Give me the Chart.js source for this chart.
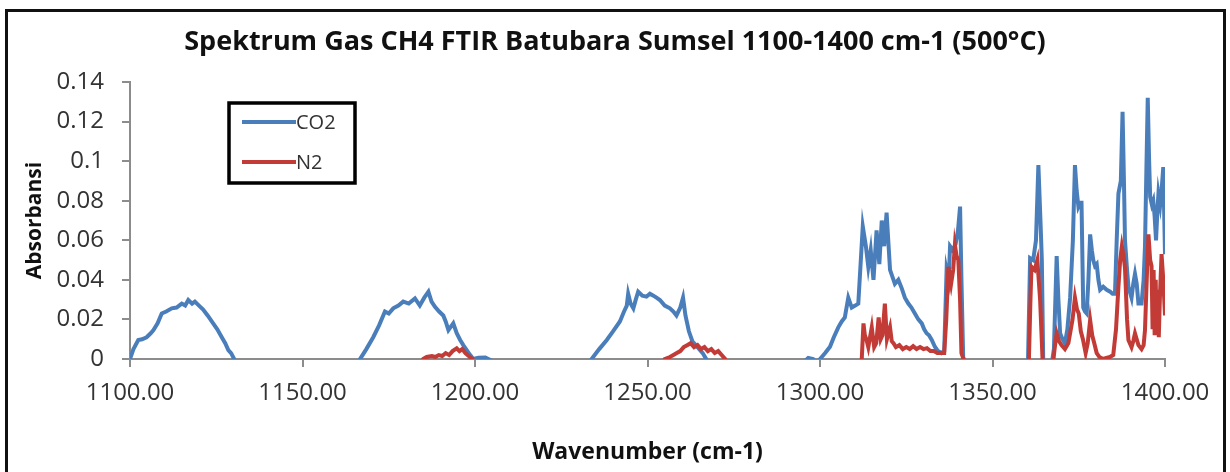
<!DOCTYPE html>
<html>
<head>
<meta charset="utf-8">
<script src="https://cdn.jsdelivr.net/npm/chart.js@4.4.1/dist/chart.umd.min.js"></script>
<style>
    html, body { margin: 0; padding: 0; background: #ffffff; }
    #wrap { width: 1230px; height: 472px; }
</style>
</head>
<body>
<div id="wrap"><canvas id="spectrumChart" width="1230" height="472"></canvas></div>
<script>
// Chart text
const chartTitle = 'Spektrum Gas CH4 FTIR Batubara Sumsel 1100-1400 cm-1 (500°C)';
const xTitle = 'Wavenumber (cm-1)';
const yTitle = 'Absorbansi';
const seriesNames = ['CO2', 'N2'];

// Axis ticks
const xTicks = [1100, 1150, 1200, 1250, 1300, 1350, 1400];
const yTicks = [0, 0.02, 0.04, 0.06, 0.08, 0.1, 0.12, 0.14];

// CO2 spectrum (wavenumber, absorbance), values below 0 are hidden under the axis
const co2Wn = [
    1100, 1101, 1102.4, 1103.5, 1104.8, 1106, 1106.8, 1108, 1109.2, 1110.5, 1112.1, 1113.5, 1115, 1116, 1116.9,
    1118, 1118.8, 1120, 1121.2, 1122.5, 1124.1, 1125.3, 1126.6, 1127.6, 1128.5, 1129.3, 1130.2, 1131,
    1150, 1166,
    1166.7, 1168.5, 1170.5, 1172.2, 1173.9, 1175, 1176.3, 1177.8, 1179.2, 1180.8, 1182.6, 1184, 1185.3, 1186.5,
    1187.4, 1188.4, 1189.6, 1190.8, 1191.5, 1192.3, 1193.7, 1194.7, 1195.7, 1196.6, 1197.6, 1198.6, 1199.5,
    1201, 1203, 1205, 1220, 1233,
    1233.8, 1236, 1238.2, 1240, 1242, 1243.2, 1244, 1244.4, 1245.1, 1245.9, 1246.6, 1247.3, 1248.5, 1249.7,
    1250.7, 1251.7, 1252.6, 1253.6, 1255, 1256.5, 1257.5, 1258.4, 1259.5, 1260.3, 1261, 1262, 1263, 1264.5,
    1266, 1267, 1268,
    1285, 1295, 1296.6, 1298, 1299,
    1300, 1301.5, 1302.9, 1304, 1305.3, 1306.3, 1307.2, 1308.2, 1309.2, 1310.2, 1311.1, 1312.4, 1313.3, 1314,
    1314.7, 1315.5, 1316.4, 1317.2, 1317.9, 1318.6, 1319.3, 1320.3, 1321.7, 1322.7, 1323.7, 1324.6, 1325.6,
    1326.5, 1327.5, 1328.5, 1329.5, 1330.2, 1330.9, 1331.6, 1332.4, 1333.3, 1334.2, 1335.2, 1336, 1336.7,
    1337.3, 1337.7, 1338.5, 1339.3, 1340, 1340.6, 1341, 1341.5, 1342.3,
    1350, 1359.6,
    1360.3, 1360.9, 1361.8, 1362.6, 1363.3, 1363.9, 1364.3, 1364.7, 1365.2, 1367.2, 1367.8, 1368.6, 1369.1,
    1369.6, 1370.3, 1371, 1371.7, 1372.5, 1373.3, 1373.9, 1374.4, 1374.9, 1375.4, 1375.8, 1376.3, 1376.8,
    1377.3, 1377.8, 1378.3, 1378.8, 1379.2, 1379.7, 1380.2, 1380.7, 1381.2, 1382.1, 1383.1, 1384.1, 1384.8,
    1385.5, 1386, 1386.5, 1387.2, 1387.7, 1388.1, 1388.4, 1389, 1389.4, 1390.3, 1390.8, 1391.3, 1391.8,
    1392.3, 1393.2, 1393.8, 1394.2, 1394.6, 1395, 1395.4, 1395.7, 1396.2, 1396.6, 1397, 1397.4, 1397.8,
    1398.1, 1398.6, 1399, 1399.5, 1400
];
const co2Abs = [
    0, 0.005, 0.0096, 0.010, 0.011, 0.013, 0.0146, 0.018, 0.023, 0.024, 0.0256, 0.026, 0.028, 0.027, 0.0298,
    0.028, 0.029, 0.027, 0.025, 0.022, 0.018, 0.015, 0.011, 0.008, 0.0045, 0.003, 0, -0.004,
    -0.006, -0.003,
    0, 0.005, 0.011, 0.017, 0.024, 0.023, 0.0256, 0.027, 0.029, 0.028, 0.0306, 0.027, 0.031, 0.034,
    0.029, 0.0264, 0.024, 0.022, 0.019, 0.0146, 0.018, 0.013, 0.0096, 0.007, 0.0045, 0.002, 0,
    0.0006, 0.0008, -0.001, -0.006, -0.003,
    0, 0.005, 0.0096, 0.014, 0.019, 0.024, 0.027, 0.033, 0.028, 0.0256, 0.030, 0.034, 0.032, 0.0315,
    0.033, 0.032, 0.031, 0.0298, 0.027, 0.0256, 0.024, 0.022, 0.026, 0.031, 0.022, 0.014, 0.009, 0.006,
    0.003, 0, -0.004,
    -0.006, -0.002, 0.0005, 0, -0.002,
    0, 0.003, 0.0062, 0.011, 0.016, 0.019, 0.021, 0.031, 0.026, 0.027, 0.028, 0.067, 0.057, 0.0466,
    0.055, 0.040, 0.065, 0.048, 0.070, 0.057, 0.074, 0.045, 0.038, 0.040, 0.0357, 0.031, 0.028,
    0.026, 0.023, 0.020, 0.018, 0.015, 0.013, 0.012, 0.0096, 0.0062, 0.004, 0.003, 0.004, 0.045,
    0.040, 0.057, 0.055, 0.058, 0.065, 0.077, 0.040, 0.001, -0.004,
    -0.006, -0.003,
    0, 0.051, 0.050, 0.060, 0.098, 0.070, 0.050, 0, -0.004, -0.002, 0.005, 0.052, 0.030,
    0.013, 0.010, 0.008, 0.015, 0.031, 0.060, 0.098, 0.085, 0.077, 0.079, 0.079, 0.026, 0.024,
    0.023, 0.040, 0.063, 0.055, 0.050, 0.047, 0.048, 0.040, 0.035, 0.0365, 0.035, 0.034, 0.033,
    0.033, 0.060, 0.0836, 0.090, 0.125, 0.090, 0.060, 0.045, 0.0365, 0.031, 0.038, 0.043, 0.038,
    0.028, 0.028, 0.040, 0.057, 0.095, 0.132, 0.100, 0.082, 0.078, 0.080, 0.072, 0.060, 0.075,
    0.0836, 0.078, 0.085, 0.097, 0.053
];

// N2 spectrum (wavenumber, absorbance)
const n2Wn = [
    1100, 1150, 1184,
    1185, 1186, 1187.5, 1188.5, 1189.5, 1190.5, 1191.5, 1192.5, 1193.5, 1194.7, 1195.5, 1196.3, 1197.2,
    1198.5, 1199.3, 1200,
    1230, 1254,
    1255, 1256.5, 1257.5, 1258.5, 1259.5, 1260.5, 1261.5, 1262.5, 1263.5, 1264.5, 1265.5, 1266.5, 1267.5,
    1268.5, 1269.5, 1270.5, 1271.5, 1272.5, 1273,
    1290, 1311.5,
    1312.1, 1312.6, 1313, 1313.5, 1314, 1315, 1315.7, 1316.3, 1317, 1317.6, 1318.1, 1318.8, 1319.4, 1320.3,
    1320.8, 1321.3, 1322, 1323, 1324, 1325, 1326, 1327, 1328, 1329, 1330, 1331, 1332, 1333, 1334, 1335,
    1336, 1336.6, 1337.2, 1338, 1338.6, 1339.1, 1339.6, 1340.1, 1340.6, 1341, 1341.6, 1342.2,
    1350, 1360.5,
    1361, 1361.3, 1362.2, 1363, 1363.8, 1364.5, 1365.2, 1367.5, 1368, 1368.6, 1369.3, 1370, 1371, 1372,
    1373.2, 1373.9, 1374.5, 1375, 1375.6, 1376.2, 1377, 1377.6, 1378.3, 1378.9, 1379.5, 1380.2, 1381,
    1382, 1383, 1384, 1385, 1385.8, 1386.5, 1387, 1387.5, 1388, 1388.4, 1389, 1389.4, 1390.3, 1390.8,
    1391.3, 1391.8, 1392.3, 1393.2, 1393.8, 1394.2, 1394.7, 1395.2, 1395.7, 1396.1, 1396.4, 1396.7,
    1397, 1397.3, 1397.6, 1397.9, 1398.2, 1398.5, 1399, 1399.5, 1400
];
const n2Abs = [
    -0.005, -0.006, -0.004,
    0, 0.001, 0.0015, 0.001, 0.002, 0.0015, 0.003, 0.002, 0.004, 0.0054, 0.004, 0.005, 0.003,
    0.001, 0, -0.004,
    -0.006, -0.004,
    0, 0.001, 0.002, 0.003, 0.004, 0.006, 0.007, 0.008, 0.006, 0.007, 0.005, 0.006, 0.004,
    0.005, 0.003, 0.004, 0.002, 0, -0.004,
    -0.006, -0.004,
    0, 0.018, 0.012, 0.0096, 0.006, 0.016, 0.006, 0.008, 0.021, 0.010, 0.012, 0.028, 0.010, 0.016,
    0.009, 0.008, 0.006, 0.007, 0.005, 0.006, 0.005, 0.0065, 0.005, 0.006, 0.005, 0.0055, 0.004, 0.004, 0.003, 0.003,
    0.003, 0.020, 0.0466, 0.038, 0.045, 0.0576, 0.052, 0.050, 0.030, 0.003, 0, -0.004,
    -0.006, -0.004,
    0.030, 0.0466, 0.045, 0.050, 0.030, 0, -0.004, -0.003, 0.005, 0.013, 0.009, 0.007, 0.005, 0.008,
    0.020, 0.031, 0.025, 0.023, 0.014, 0.010, 0.003, 0.008, 0.0197, 0.012, 0.008, 0.003, 0.001,
    0, 0.0005, 0.001, 0.002, 0.015, 0.0365, 0.050, 0.057, 0.052, 0.046, 0.020, 0.0096, 0.006, 0.009,
    0.013, 0.010, 0.007, 0.005, 0.007, 0.0146, 0.040, 0.063, 0.050, 0.047, 0.015, 0.045,
    0.012, 0.040, 0.012, 0.035, 0.011, 0.030, 0.053, 0.040, 0.022
];

const seriesColors = ['#4a7ebb', '#c23b36'];

// Pair the wavenumbers with the absorbance values
function toPoints(wn, abs) {
    return wn.map((x, i) => ({ x: x, y: abs[i] }));
}

// Frame, title and the boxed legend inside the plot
const decorPlugin = {
    id: 'decor',
    beforeDraw(chart) {
        const ctx = chart.ctx;
        ctx.save();
        ctx.fillStyle = '#ffffff';
        ctx.fillRect(0, 0, chart.width, chart.height);
        ctx.strokeStyle = '#111111';
        ctx.lineWidth = 3;
        ctx.strokeRect(6.5, 10.5, 1218, 480);
        ctx.restore();
    },
    afterDraw(chart) {
        const ctx = chart.ctx;
        ctx.save();
        // title
        ctx.fillStyle = '#111111';
        ctx.font = 'bold 27px "Open Sans"';
        ctx.textAlign = 'center';
        ctx.textBaseline = 'middle';
        ctx.fillText(chartTitle, 615, 42);

        // legend box
        ctx.strokeStyle = '#000000';
        ctx.lineWidth = 3.5;
        ctx.strokeRect(229, 103, 126, 80);
        ctx.font = '20px "Open Sans"';
        ctx.textAlign = 'left';
        chart.data.datasets.forEach((ds, i) => {
            const y = 122 + i * 40;
            ctx.strokeStyle = ds.borderColor;
            ctx.lineWidth = 4;
            ctx.beginPath();
            ctx.moveTo(242, y);
            ctx.lineTo(296, y);
            ctx.stroke();
            ctx.fillStyle = '#333333';
            ctx.fillText(ds.label, 296, y + 1);
        });
        ctx.restore();
    }
};

function drawChart() {
    const data = {
        datasets: [{
            label: seriesNames[0],
            data: toPoints(co2Wn, co2Abs),
            borderColor: seriesColors[0],
            borderWidth: 4,
            pointRadius: 0,
            order: 1
        }, {
            label: seriesNames[1],
            data: toPoints(n2Wn, n2Abs),
            borderColor: seriesColors[1],
            borderWidth: 4,
            pointRadius: 0,
            order: 0
        }]
    };

    const axisGray = '#8c8c8c';
    const tickFont = { family: 'Open Sans', size: 24 };

    const config = {
        type: 'line',
        data: data,
        options: {
            responsive: false,
            animation: false,
            layout: { padding: { top: 82, right: 65, bottom: 0, left: 0 } },
            plugins: {
                legend: { display: false },
                tooltip: { enabled: false },
                title: { display: false }
            },
            scales: {
                x: {
                    type: 'linear',
                    min: xTicks[0],
                    max: xTicks[xTicks.length - 1],
                    afterBuildTicks: (scale) => { scale.ticks = xTicks.map(v => ({ value: v })); },
                    afterFit: (scale) => { scale.height = 113; },
                    grid: { drawOnChartArea: false, drawTicks: true, tickLength: 8, color: axisGray, lineWidth: 2 },
                    border: { display: true, color: axisGray, width: 2 },
                    ticks: {
                        color: '#333333',
                        font: tickFont,
                        padding: 12,
                        maxRotation: 0,
                        callback: (v) => Number(v).toFixed(2)
                    },
                    title: {
                        display: true,
                        text: xTitle,
                        color: '#111111',
                        font: { family: 'Open Sans', size: 23, weight: 'bold' },
                        padding: { top: 0, bottom: 6 }
                    }
                },
                y: {
                    min: yTicks[0],
                    max: yTicks[yTicks.length - 1],
                    afterBuildTicks: (scale) => { scale.ticks = yTicks.map(v => ({ value: v })); },
                    afterFit: (scale) => { scale.width = 130; },
                    grid: { drawOnChartArea: false, drawTicks: true, tickLength: 8, color: axisGray, lineWidth: 2 },
                    border: { display: true, color: axisGray, width: 2 },
                    ticks: {
                        color: '#333333',
                        font: tickFont,
                        padding: 18,
                        callback: (v) => String(Number(Number(v).toFixed(2)))
                    },
                    title: {
                        display: true,
                        text: yTitle,
                        color: '#111111',
                        font: { family: 'Open Sans', size: 21, weight: 'bold' },
                        padding: { top: 22, bottom: 0 }
                    }
                }
            }
        },
        plugins: [decorPlugin]
    };

    const ctx = document.getElementById('spectrumChart').getContext('2d');
    window.spectrumChart = new Chart(ctx, config);
}

drawChart();
</script>
</body>
</html>
